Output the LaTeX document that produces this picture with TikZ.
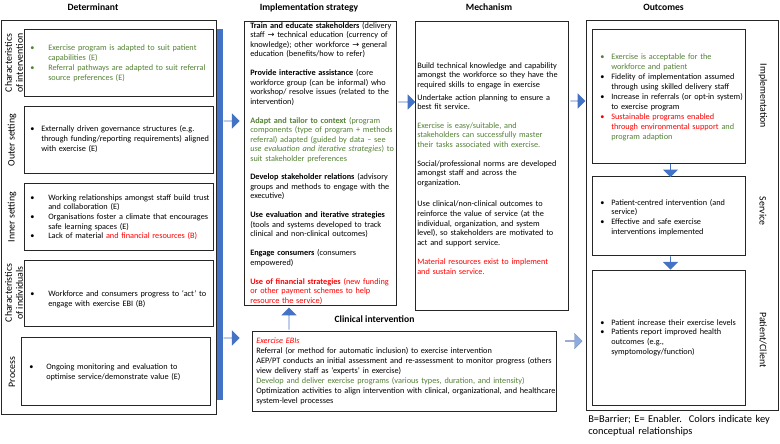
\documentclass[tikz,border=0pt]{standalone}
\usepackage{fontspec}
\setmainfont{Carlito}
\newfontfamily\arrfont{DejaVu Sans}
\usetikzlibrary{fit,shapes.arrows}
\definecolor{arrblue}{HTML}{4472C4}
\definecolor{arrlight}{HTML}{8FAADC}
\definecolor{grn}{HTML}{538135}
\definecolor{rd}{HTML}{FF0000}
\definecolor{boxline}{HTML}{262626}
\newcommand{\bl}[1]{\makebox[#1][l]{•}}
\newcommand{\ind}[1]{\hspace*{#1}}
\newcommand{\ra}{{\arrfont →}}
\tikzset{
  frame/.style={draw=boxline, line width=0.6pt, inner sep=0pt},
  body/.style={inner sep=0pt, anchor=base west, align=left, text width=260pt, font=\fontsize{6.2}{7.5}\selectfont},
  title/.style={inner sep=0pt, anchor=base, font=\fontsize{7.2}{8.6}\selectfont\bfseries},
  sidel/.style={inner sep=0pt, align=center, rotate=90, font=\fontsize{7.4}{8.4}\selectfont},
  sider/.style={inner sep=0pt, rotate=-90, font=\fontsize{7.4}{8.4}\selectfont},
  barrow/.style={single arrow, fill=arrblue, draw=none, inner sep=0pt, minimum width=11.5pt, single arrow head extend=3pt, anchor=tail}
}
\begin{document}
\begin{tikzpicture}[x=0.75pt,y=-0.75pt]
\useasboundingbox (0,0) rectangle (780,443);
% titles
\node[title] (hdet) at (93,10) {Determinant};
\node[title] (himp) at (309,10) {Implementation strategy};
\node[title] (hmech) at (489,10) {Mechanism};
\node[title] (hout) at (663.5,10) {Outcomes};
\node[title] (hclin) at (374.5,322) {Clinical intervention};
% determinant column
\node[frame, fit={(1,20) (216.5,414)}] (det) {};
\node[frame, fit={(24,29) (213,96)}] (d1) {};
\node[frame, fit={(24,106.7) (213,173.3)}] (d2) {};
\node[frame, fit={(24,183.3) (213,250.7)}] (d3) {};
\node[frame, fit={(24,260) (213,326.7)}] (d4) {};
\node[frame, fit={(21.3,337.7) (210.7,405)}] (d5) {};
\node[fill=arrblue, inner sep=0pt, fit={(216.5,29) (223,400)}] (bar) {};
\node[sidel] (l1) at (14,63) {Characteristics\\of intervention};
\node[sidel] (l2) at (12,140) {Outer setting};
\node[sidel] (l3) at (12,217) {Inner setting};
\node[sidel] (l4) at (14,293) {Characteristics\\of individuals};
\node[sidel] (l5) at (12,372) {Process};
\node[body] (t1) at (30,50) {\color{grn}\bl{13.5pt}Exercise program is adapted to suit patient\\ \ind{13.5pt}capabilities (E)\\ \bl{13.5pt}Referral pathways are adapted to suit referral\\ \ind{13.5pt}source preferences (E)};
\node[body] (t2) at (30,131) {\bl{8.25pt}Externally driven governance structures (e.g.\\ \ind{8.25pt}through funding/reporting requirements) aligned\\ \ind{8.25pt}with exercise (E)};
\node[body, font=\fontsize{6.2}{7.3}\selectfont] (t3) at (30,200) {\bl{13.5pt}Working relationships amongst staff build trust\\ \ind{13.5pt}and collaboration (E)\\ \bl{13.5pt}Organisations foster a climate that encourages\\ \ind{13.5pt}safe learning spaces (E)\\ \bl{13.5pt}Lack of material {\color{rd}and financial resources (B)}};
\node[body] (t4) at (30,296) {\bl{13.5pt}Workforce and consumers progress to ‘act’ to\\ \ind{13.5pt}engage with exercise EBI (B)};
\node[body] (t5) at (29,369) {\bl{12.75pt}Ongoing monitoring and evaluation to\\ \ind{12.75pt}optimise service/demonstrate value (E)};
% arrows from determinant
\node[barrow, minimum height=12pt] (a1) at (bar.east |- 0,121) {};
\node[barrow, minimum height=12pt] (a2) at (bar.east |- 0,338) {};
% implementation strategy
\node[frame, fit={(244,21) (396.7,305)}] (imp) {};
\node[body, font=\fontsize{6.2}{7.1}\selectfont] (timp) at (250,28.5) {\textbf{Train and educate stakeholders} (delivery\\ staff \ra{} technical education (currency of\\ knowledge); other workforce \ra{} general\\ education (benefits/how to refer)\\[7.1pt]
\textbf{Provide interactive assistance} (core\\ workforce group (can be informal) who\\ workshop/ resolve issues (related to the\\ intervention)\\[7.1pt]
{\color{grn}\textbf{Adapt and tailor to context} (program\\ components (type of program + methods\\ referral) adapted (guided by data – see\\ \textit{use evaluation and iterative strategies}) to\\ suit stakeholder preferences}\\[7.1pt]
\textbf{Develop stakeholder relations} (advisory\\ groups and methods to engage with the\\ executive)\\[7.1pt]
\textbf{Use evaluation and iterative strategies}\\ (tools and systems developed to track\\ clinical and non-clinical outcomes)\\[7.1pt]
\textbf{Engage consumers} (consumers\\ empowered)\\[7.1pt]
{\color{rd}\textbf{Use of financial strategies} (new funding\\ or other payment schemes to help\\ resource the service)}};
% clinical intervention
\node[frame, fit={(252.7,331.7) (556.7,411)}] (clin) {};
\node[body] (tclin) at (256,343) {{\color{rd}\textit{Exercise EBIs}}\\ Referral (or method for automatic inclusion) to exercise intervention\\ AEP/PT conducts an initial assessment and re-assessment to monitor progress (others\\ view delivery staff as ‘experts’ in exercise)\\ {\color{grn}Develop and deliver exercise programs (various types, duration, and intensity)}\\ Optimization activities to align intervention with clinical, organizational, and healthcare\\ system-level processes};
\node[barrow, rotate=90, minimum height=16.5pt] (a5) at (289,330) {};
% mechanism
\node[frame, fit={(415.7,21) (568.3,310)}] (mech) {};
\node[body, font=\fontsize{6.2}{7.2}\selectfont] (tmech) at (417,68) {Build technical knowledge and capability\\ amongst the workforce so they have the\\ required skills to engage in exercise\\[2.4pt]
Undertake action planning to ensure a\\ best fit service.\\[6.6pt]
{\color{grn}Exercise is easy/suitable, and\\ stakeholders can successfully master\\ their tasks associated with exercise.}\\[6.9pt]
Social/professional norms are developed\\ amongst staff and across the\\ organization.\\[9pt]
Use clinical/non-clinical outcomes to\\ reinforce the value of service (at the\\ individual, organization, and system\\ level), so stakeholders are motivated to\\ act and support service.\\[7.2pt]
{\color{rd}Material resources exist to implement\\ and sustain service.}};
\node[barrow, minimum height=12.75pt] (a3) at (398,102) {};
\node[barrow, minimum height=11.25pt] (a4) at (570,101) {};
\node[barrow, fill=arrlight, draw=arrlight!85!black, line width=0.3pt, minimum height=12.75pt] (a8) at (565,341) {};
% outcomes
\node[frame, fit={(586.7,20) (778,410)}] (out) {};
\node[frame, fit={(592.7,29) (745.7,163.3)}] (o1) {};
\node[frame, fit={(592.7,176.7) (745.7,255.7)}] (o2) {};
\node[frame, fit={(592.7,270) (745.7,405)}] (o3) {};
\node[barrow, rotate=-90, minimum height=10pt] (a6) at (670.5,163.6) {};
\node[barrow, rotate=-90, minimum height=10pt] (a7) at (670.5,256) {};
\node[sider] (r1) at (763,96) {Implementation};
\node[sider] (r2) at (763,211) {Service};
\node[sider] (r3) at (763,340) {Patient/Client};
\node[body] (to1) at (600,59) {{\color{grn}\bl{8.25pt}Exercise is acceptable for the\\ \ind{8.25pt}workforce and patient}\\ \bl{8.25pt}Fidelity of implementation assumed\\ \ind{8.25pt}through using skilled delivery staff\\ \bl{8.25pt}Increase in referrals (or opt-in system)\\ \ind{8.25pt}to exercise program\\ {\color{rd}\bl{8.25pt}Sustainable programs enabled\\ \ind{8.25pt}through environmental support} {\color{grn}and\\ \ind{8.25pt}program adaption}};
\node[body, font=\fontsize{6.2}{7.3}\selectfont] (to2) at (600,205) {\bl{8.25pt}Patient-centred intervention (and\\ \ind{8.25pt}service)\\ \bl{8.25pt}Effective and safe exercise\\ \ind{8.25pt}interventions implemented};
\node[body, font=\fontsize{6.2}{7.4}\selectfont] (to3) at (600,325) {\bl{8.25pt}Patient increase their exercise levels\\ \bl{8.25pt}Patients report improved health\\ \ind{8.25pt}outcomes (e.g.,\\ \ind{8.25pt}symptomology/function)};
\node[inner sep=0pt, anchor=base west, align=left, text width=200pt, font=\fontsize{7.8}{9}\selectfont] (note) at (588,422.5) {B=Barrier; E= Enabler.\ \ Colors indicate key\\ conceptual relationships};
\end{tikzpicture}
\end{document}
